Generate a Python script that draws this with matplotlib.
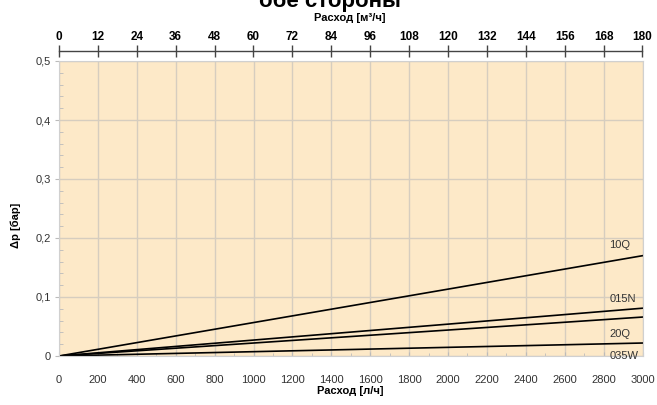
import numpy as np
import matplotlib
matplotlib.use('Agg')
import matplotlib.pyplot as plt
from matplotlib.ticker import MultipleLocator, FuncFormatter

plt.rcParams['font.family'] = ['Liberation Sans', 'DejaVu Sans']

# data: pressure drop [bar] vs flow [l/h]
flow = [0, 3000]
dp_10Q = [0, 0.170]
dp_015N = [0, 0.081]
dp_20Q = [0, 0.066]
dp_035W = [0, 0.022]
series = [('10Q', dp_10Q, 0.188), ('015N', dp_015N, 0.097),
          ('20Q', dp_20Q, 0.038), ('035W', dp_035W, 0.000)]

top_ticks = list(range(0, 181, 12))
bottom_ticks = list(range(0, 3001, 200))

W, H = 657, 405
fig = plt.figure(figsize=(W / 100, H / 100), dpi=100)
ax = fig.add_axes([59 / W, 1 - 356 / H, (642.5 - 59) / W, (356 - 61) / H])
ax.set_facecolor('#FDE9C8')

ax.set_xlim(0, 3000)
ax.set_ylim(0, 0.5)
ax.set_xticks(bottom_ticks)
ax.xaxis.set_minor_locator(MultipleLocator(100))
ax.yaxis.set_major_locator(MultipleLocator(0.1))
ax.yaxis.set_minor_locator(MultipleLocator(0.02))
ax.yaxis.set_major_formatter(FuncFormatter(
    lambda v, p: '0' if abs(v) < 1e-9 else ('%.1f' % v).replace('.', ',')))
ax.grid(True, which='major', color='#D6CDBF', lw=1.0)
ax.set_axisbelow(True)

ax.tick_params(axis='x', which='major', direction='in', length=3, color='#bbbbbb',
               labelsize=8, labelcolor='#333333', pad=14)
ax.tick_params(axis='x', which='minor', direction='in', length=2, color='#bbbbbb')
ax.tick_params(axis='y', which='major', direction='out', length=3, color='#bbbbbb',
               labelsize=8, labelcolor='#333333', pad=3)
ax.tick_params(axis='y', which='minor', direction='in', length=3, color='#bbbbbb')
for s in ax.spines.values():
    s.set_color('#d0d0d0')
    s.set_linewidth(0.8)

for name, dp, ylab in series:
    ax.plot(flow, dp, color='black', lw=1.2)
    ax.text(2830, ylab, name, fontsize=8, color='#333333', va='center', ha='left',
            clip_on=False)

# top axis in m3/h
ax2 = ax.twiny()
ax2.set_xlim(0, 180)
ax2.set_xticks(top_ticks)
for k in ['left', 'right', 'bottom']:
    ax2.spines[k].set_visible(False)
ax2.spines['top'].set_position(('outward', 7))
ax2.spines['top'].set_color('#444444')
ax2.spines['top'].set_linewidth(1.0)
ax2.tick_params(axis='x', direction='inout', length=8, width=1, color='#444444',
                labelsize=8.5, pad=2)
for lab in ax2.get_xticklabels():
    lab.set_fontweight('bold')

fig.text(350 / W, 1 - 391 / H, 'Расход [л/ч]', ha='center', va='center',
         fontsize=8, fontweight='bold')
fig.text(16 / W, 1 - 225 / H, 'Δp [бар]', ha='center', va='center', rotation=90,
         fontsize=8, fontweight='bold')
fig.text(350 / W, 1 - 18 / H, 'Расход [м³/ч]', ha='center', va='center',
         fontsize=8, fontweight='bold')
fig.text(330 / W, 1 - 6.5 / H, 'обе стороны', ha='center', va='baseline',
         fontsize=16, fontweight='bold')

fig.savefig('out.png', dpi=100)
